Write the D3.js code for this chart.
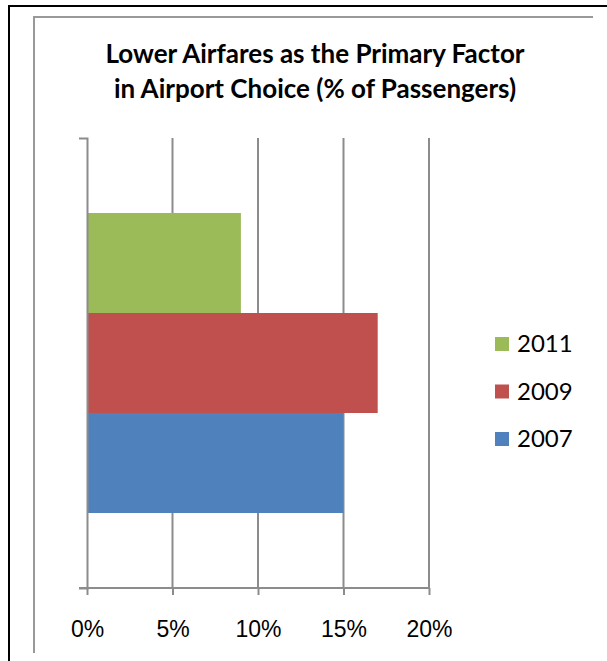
<!DOCTYPE html>
<html>
<head>
<meta charset="utf-8">
<script src="https://cdn.jsdelivr.net/npm/d3@7"></script>
<style>
  body { margin: 0; background: #fff; }
  svg { display: block; font-family: Lato, "Open Sans", sans-serif; }
</style>
</head>
<body>
<div id="chart"></div>
<script>
const titleLines = ["Lower Airfares as the Primary Factor", "in Airport Choice (% of Passengers)"];
const seriesNames = ["2011", "2009", "2007"];
const seriesValues = [9, 17, 15];
const seriesColors = ["#9BBB59", "#C0504D", "#4F81BD"];
const xTicks = [0, 5, 10, 15, 20];

const W = 607, H = 661;
const plot = { left: 87, right: 429, top: 138, bottom: 588 };

const svg = d3.select("#chart").append("svg")
  .attr("width", W)
  .attr("height", H);

// frames
svg.append("path")
  .attr("d", "M9,661 V6 H607")
  .attr("fill", "none").attr("stroke", "#000").attr("stroke-width", 2);
svg.append("path")
  .attr("d", "M34,653 V17 H593")
  .attr("fill", "none").attr("stroke", "#999").attr("stroke-width", 2);

// title
svg.append("text")
  .attr("class", "chart-title")
  .attr("text-anchor", "middle")
  .attr("font-weight", "bold")
  .attr("font-size", 26)
  .attr("fill", "#000")
  .selectAll("tspan")
  .data(titleLines)
  .join("tspan")
  .attr("x", 315)
  .attr("y", (d, i) => 63 + i * 35)
  .text(d => d);

const x = d3.scaleLinear().domain([0, 20]).range([plot.left, plot.right]);
// single category: three bars with a 150% gap split above and below
const y = d3.scaleBand()
  .domain(seriesNames)
  .range([plot.top, plot.bottom])
  .paddingInner(0)
  .paddingOuter(0.75);

const g = svg.append("g");

// gridlines
g.append("g")
  .selectAll("line")
  .data(xTicks.slice(1))
  .join("line")
  .attr("x1", d => x(d)).attr("x2", d => x(d))
  .attr("y1", plot.top).attr("y2", plot.bottom)
  .attr("stroke", "#8c8c8c").attr("stroke-width", 2);

// bars
g.append("g")
  .selectAll("rect")
  .data(seriesNames)
  .join("rect")
  .attr("x", x(0))
  .attr("y", d => y(d))
  .attr("width", (d, i) => x(seriesValues[i]) - x(0))
  .attr("height", y.bandwidth())
  .attr("fill", (d, i) => seriesColors[i]);

// x axis
const xAxis = g.append("g")
  .attr("class", "x-axis")
  .attr("transform", "translate(0," + plot.bottom + ")")
  .call(d3.axisBottom(x).tickValues(xTicks).tickFormat(d => d + "%").tickSize(7).tickSizeOuter(0).tickPadding(26));
xAxis.select(".domain").attr("stroke", "#8c8c8c").attr("stroke-width", 2).attr("d", "M79,0H" + plot.right);
xAxis.selectAll(".tick line").attr("stroke", "#8c8c8c").attr("stroke-width", 2);
xAxis.selectAll(".tick text").attr("font-size", 23).attr("fill", "#000").attr("font-family", null);

// y axis
const yAxis = g.append("g")
  .attr("class", "y-axis")
  .attr("transform", "translate(" + plot.left + ",0)")
  .call(d3.axisLeft(d3.scaleLinear().range([plot.bottom, plot.top])).tickValues([]).tickSizeOuter(8));
yAxis.select(".domain").attr("stroke", "#8c8c8c").attr("stroke-width", 2).attr("fill", "none");

// legend
const legend = svg.append("g")
  .selectAll("g")
  .data(seriesNames)
  .join("g")
  .attr("transform", (d, i) => "translate(495," + (344 + i * 47.5) + ")");
legend.append("rect")
  .attr("x", 0).attr("y", -7).attr("width", 14).attr("height", 14)
  .attr("fill", (d, i) => seriesColors[i]);
legend.append("text")
  .attr("x", 22).attr("y", 0).attr("dy", "0.35em")
  .attr("font-size", 24).attr("fill", "#000")
  .text(d => d);
</script>
</body>
</html>
